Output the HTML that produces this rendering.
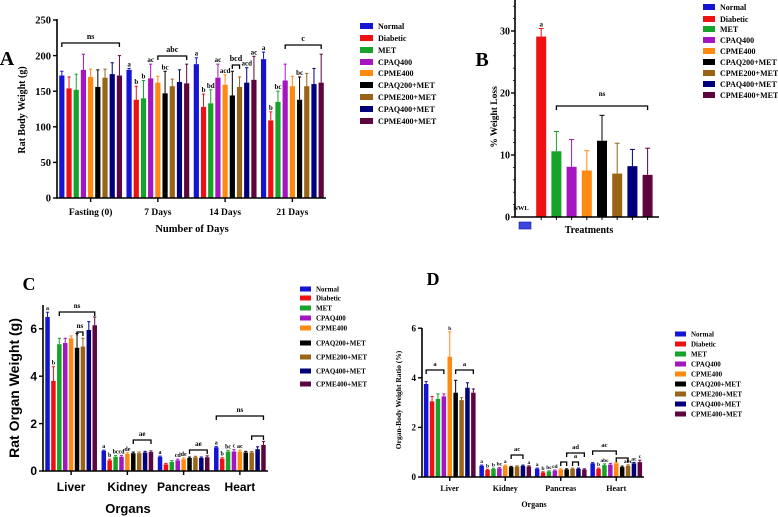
<!DOCTYPE html>
<html><head><meta charset="utf-8">
<style>
html,body{margin:0;padding:0;background:#fff;}
svg{display:block;font-family:"Liberation Serif",serif;font-weight:bold;}
</style></head>
<body>
<svg id="fig" width="778" height="517" viewBox="0 0 778 517" xmlns="http://www.w3.org/2000/svg"></svg>
<script>
const seriesNames = ["Normal","Diabetic","MET","CPAQ400","CPME400","CPAQ200+MET","CPME200+MET","CPAQ400+MET","CPME400+MET"];
const seriesColors = ["#1414d2","#ee1111","#16a32a","#a316c0","#ff8a12","#000000","#9a6418","#00007a","#5e0540"];

// Panel A
const catsA = ["Fasting (0)","7 Days","14 Days","21 Days"];
const valsA = [[172,154,152,180,170,156,169,174,172],[180,138,140,168,162,147,157,163,161],[188,128,133,169,159,144,156,162,166],[195,109,135,165,157,138,157,160,162]];
const errA = [[6,16,22,22,11,24,12,16,28],[2,19,25,20,9,31,10,17,27],[9,18,19,19,14,34,14,21,33],[10,12,15,23,14,32,18,22,40]];
const ticksA = [0,50,100,150,200,250];
const lettersA = [["","","","","","","","",""],["a","b","b","ac","","bc","","",""],["a","b","bd","ac","acd","","","acd","ac"],["a","b","bc","","","bc","","",""]];

// Panel B
const valsB = [0,29.1,10.6,8.1,7.5,12.3,7.0,8.2,6.8];
const errB = [0,1.3,3.2,4.4,3.2,4.1,4.9,2.7,4.3];
const ticksB = [0,10,20,30];

// Panel C
const catsC = ["Liver","Kidney","Pancreas","Heart"];
const valsC = [[6.5,3.8,5.35,5.4,5.6,5.2,5.25,5.95,6.15],[0.85,0.45,0.6,0.6,0.72,0.75,0.75,0.78,0.8],[0.6,0.28,0.38,0.45,0.5,0.55,0.58,0.55,0.58],[1.0,0.52,0.82,0.82,0.82,0.78,0.78,0.92,1.1]];
const errC = [[0.2,0.6,0.25,0.2,0.1,0.6,0.35,0.35,0.35],[0.03,0.05,0.05,0.05,0.05,0.05,0.05,0.05,0.05],[0.03,0.04,0.06,0.05,0.05,0.04,0.04,0.04,0.06],[0.03,0.04,0.05,0.08,0.06,0.05,0.04,0.1,0.15]];
const ticksC = [0,2,4,6];
const lettersC = [["a","b","","","","","","",""],["a","b","bc","cd","de","","","",""],["a","","","cd","de","","","",""],["a","b","bc","c","ac","","","",""]];

// Panel D
const catsD = ["Liver","Kidney","Pancreas","Heart"];
const valsD = [[3.75,3.05,3.15,3.25,4.85,3.4,3.1,3.6,3.4],[0.45,0.28,0.32,0.35,0.45,0.4,0.42,0.45,0.42],[0.33,0.18,0.22,0.25,0.3,0.3,0.33,0.33,0.3],[0.55,0.33,0.48,0.5,0.55,0.4,0.45,0.55,0.6]];
const errD = [[0.1,0.2,0.2,0.1,1.0,0.5,0.1,0.2,0.15],[0.03,0.03,0.03,0.03,0.03,0.03,0.03,0.03,0.03],[0.03,0.03,0.03,0.03,0.03,0.03,0.03,0.03,0.03],[0.03,0.03,0.05,0.05,0.04,0.04,0.04,0.04,0.08]];
const ticksD = [0,2,4,6];
const lettersD = [["","","","","b","","","",""],["a","b","b","bc","a","","","","a"],["a","b","bc","cd","","","","",""],["","b","abc","","","","abc","ac","c"]];

const NS = "http://www.w3.org/2000/svg";
const svg = document.getElementById("fig");
function mk(tag, attrs, parent) {
  const e = document.createElementNS(NS, tag);
  for (const k in attrs) e.setAttribute(k, attrs[k]);
  (parent || svg).appendChild(e);
  return e;
}
function txt(x, y, s, size, anchor, parent, fam) {
  const t = mk("text", {x: x, y: y, "font-size": size, "text-anchor": anchor || "middle"}, parent);
  if (fam) t.setAttribute("font-family", fam);
  t.textContent = s;
  return t;
}

function groupedPanel(p) {
  const g = mk("g", {});
  
  
  const yS = v => p.y0 - (v - 0) * p.pxPerUnit;
  const band = (p.x1 - p.x0) / p.cats.length;
  const xC = i => p.x0 + (i + 0.5) * band;
  p.vals.forEach((row, ci) => {
    row.forEach((v, si) => {
      const cx = xC(ci) + (si - 4) * p.step;
      const top = yS(v);
      const r = mk("rect", {x: cx - p.bw / 2, y: top, width: p.bw, height: p.y0 - top, fill: seriesColors[si]}, g);
      
      
      const et = yS(v + p.err[ci][si]);
      mk("line", {x1: cx, x2: cx, y1: top, y2: et, stroke: seriesColors[si], "stroke-width": 1}, g);
      mk("line", {x1: cx - 1.6, x2: cx + 1.6, y1: et, y2: et, stroke: seriesColors[si], "stroke-width": 1}, g);
      const L = p.letters && p.letters[ci][si];
      if (L) {
        const lt = txt(cx, et - 2, L, p.letterSize, "middle", g);
        
        
      }
    });
  });
  const top = p.axisTop;
  mk("line", {x1: p.x0, x2: p.x0, y1: top, y2: p.y0 + 0.5, stroke: "#000", "stroke-width": 1.6}, g);
  mk("line", {x1: p.x0 - 0.8, x2: p.x1, y1: p.y0, y2: p.y0, stroke: "#000", "stroke-width": 1.6}, g);
  p.ticks.forEach(t => {
    const y = yS(t);
    mk("line", {x1: p.x0 - 4, x2: p.x0, y1: y, y2: y, stroke: "#000", "stroke-width": 1.4}, g);
    const tl = txt(p.x0 - 6, y + p.tickSize * 0.35, String(t), p.tickSize, "end", g, p.tickFam);
    
    
  });
  p.cats.forEach((c, i) => {
    mk("line", {x1: xC(i), x2: xC(i), y1: p.y0, y2: p.y0 + 4, stroke: "#000", "stroke-width": 1.4}, g);
    const cl = txt(xC(i), p.catY, c, p.catSize, "middle", g, p.tickFam);
    
    
  });
  (p.brackets || []).forEach(b => {
    const xa = xC(b[0]) + (b[1] - 4) * p.step, xb = xC(b[2]) + (b[3] - 4) * p.step;
    mk("path", {d: `M${xa},${b[4] + 4}V${b[4]}H${xb}V${b[4] + 4}`, fill: "none", stroke: "#000", "stroke-width": 1.3}, g);
    const bl = txt((xa + xb) / 2, b[4] - 4, b[5], p.letterSize + 1, "middle", g);
    
    
  });
  return g;
}

function legend(x, ys, sw, sh, size, fam, name) {
  const g = mk("g", {});
  
  
  seriesNames.forEach((s, i) => {
    const e = mk("g", {}, g);
    
    
    mk("rect", {x: x, y: ys[i] - sh / 2, width: sw, height: sh, fill: seriesColors[i]}, e);
    txt(x + sw + 5, ys[i] + size * 0.35, s, size, "start", e, fam);
  });
}

function label(x, y, s, size, name, rot, fam) {
  const t = txt(x, y, s, size, "middle", svg, fam);
  if (rot) t.setAttribute("transform", `rotate(-90 ${x} ${y})`);
  
  
  return t;
}

// ===== Panel A =====
groupedPanel({name: "chart-a", cats: catsA, vals: valsA, err: errA, ticks: ticksA, letters: lettersA,
  x0: 57, x1: 326, y0: 198, pxPerUnit: 178 / 250, axisTop: 19, step: 7.2, bw: 5.2,
  tickSize: 10.5, catSize: 9.5, catY: 215, letterSize: 7,
  brackets: [[0, 0, 0, 8, 43, "ns"], [1, 4, 1, 8, 56, "abc"], [2, 5, 2, 6, 65, "bcd"], [3, 3, 3, 8, 45, "c"]]});
label(7, 65, "A", 20, "panel-label-a");
label(25, 110, "Rat Body Weight (g)", 10, "y-axis-title-a", true);
label(192, 232, "Number of Days", 10.5, "x-axis-title-a");
legend(360, [26, 38, 50, 62, 73, 85, 97, 109, 121], 13, 6, 8, null, "legend-a");

// ===== Panel B =====
(function () {
  const g = mk("g", {});
  
  
  const x0 = 515, x1 = 659, y0 = 217, ppu = 6.2;
  const yS = v => y0 - v * ppu;
  const xS = i => 526 + i * 15.2;
  valsB.forEach((v, i) => {
    if (i === 0) return;
    const top = yS(v);
    const r = mk("rect", {x: xS(i) - 5, y: top, width: 10, height: y0 - top, fill: seriesColors[i]}, g);
    
    
    const et = yS(v + errB[i]);
    mk("line", {x1: xS(i), x2: xS(i), y1: top, y2: et, stroke: seriesColors[i], "stroke-width": 1}, g);
    mk("line", {x1: xS(i) - 2.5, x2: xS(i) + 2.5, y1: et, y2: et, stroke: seriesColors[i], "stroke-width": 1}, g);
    mk("line", {x1: xS(i), x2: xS(i), y1: y0, y2: y0 + 3, stroke: "#000", "stroke-width": 1}, g);
  });
  mk("line", {x1: x0, x2: x0, y1: 0, y2: y0 + 0.5, stroke: "#000", "stroke-width": 1.6}, g);
  mk("line", {x1: x0 - 0.8, x2: x1, y1: y0, y2: y0, stroke: "#000", "stroke-width": 1.6}, g);
  for (let v = 0; v <= 35; v += 2) mk("line", {x1: x0 - 2, x2: x0, y1: yS(v), y2: yS(v), stroke: "#000", "stroke-width": 0.8}, g);
  ticksB.forEach(t => {
    mk("line", {x1: x0 - 4, x2: x0, y1: yS(t), y2: yS(t), stroke: "#000", "stroke-width": 1.4}, g);
    const tl = txt(x0 - 5, yS(t) + 3.5, String(t), 10, "end", g);
    
    
  });
  txt(xS(1), yS(valsB[1] + errB[1]) - 2, "a", 7, "middle", g);
  txt(521, 210, "NWL", 6.5, "middle", g);
  const nb = mk("rect", {x: 519, y: 222, width: 12, height: 7, fill: "#3a48e0", stroke: "#1414a0", "stroke-width": 0.6}, g);
  
  
  mk("path", {d: `M${xS(2)},110V106H${xS(8)}V110`, fill: "none", stroke: "#000", "stroke-width": 1.3}, g);
  txt((xS(2) + xS(8)) / 2, 96, "ns", 7, "middle", g);
})();
label(482, 66, "B", 20, "panel-label-b");
label(497, 117, "% Weight Loss", 9.5, "y-axis-title-b", true);
label(589, 233, "Treatments", 10, "x-axis-title-b");
legend(703, [7, 19, 29, 40, 51, 62, 73, 84, 95], 12, 6, 8, null, "legend-b");

// ===== Panel C =====
groupedPanel({name: "chart-c", cats: catsC, vals: valsC, err: errC, ticks: ticksC, letters: lettersC,
  x0: 43, x1: 268, y0: 471, pxPerUnit: 23.7, axisTop: 305, step: 5.9, bw: 4.5,
  tickSize: 12, catSize: 12, catY: 491, letterSize: 6, tickFam: "Liberation Sans, sans-serif",
  brackets: [[0, 2, 0, 8, 312, "ns"], [0, 5, 0, 6, 332, "ns"], [1, 5, 1, 8, 440, "ae"], [2, 5, 2, 8, 450, "ae"], [3, 0, 3, 8, 416, "ns"], [3, 6, 3, 8, 436, ""]]});
label(29, 290, "C", 18, "panel-label-c");
label(19, 388, "Rat Organ Weight (g)", 14, "y-axis-title-c", true, "Liberation Sans, sans-serif");
label(128, 513, "Organs", 13, "x-axis-title-c", false, "Liberation Sans, sans-serif");
legend(300, [289, 298, 308, 318, 328, 343, 357, 371, 384], 11, 5, 7, null, "legend-c");

// ===== Panel D =====
groupedPanel({name: "chart-d", cats: catsD, vals: valsD, err: errD, ticks: ticksD, letters: lettersD,
  x0: 422, x1: 644, y0: 477, pxPerUnit: 24.8, axisTop: 328, step: 5.9, bw: 4.5,
  tickSize: 9, catSize: 8, catY: 491, letterSize: 5.5,
  brackets: [[0, 0, 0, 3, 370, "a"], [0, 5, 0, 8, 370, "a"], [1, 5, 1, 7, 455, "ac"], [2, 5, 2, 8, 453, "ad"], [2, 4, 2, 5, 462, ""], [2, 6, 2, 7, 462, "a"], [3, 0, 3, 4, 451, "ac"], [3, 4, 3, 6, 458, ""]]});
label(433, 285, "D", 18, "panel-label-d");
label(401, 400, "Organ-Body Weight Ratio (%)", 7.5, "y-axis-title-d", true);
label(534, 507, "Organs", 8, "x-axis-title-d");
legend(675, [334, 344, 354, 364, 374, 384, 394, 404, 414], 11, 5, 7, null, "legend-d");
</script>
</body></html>
